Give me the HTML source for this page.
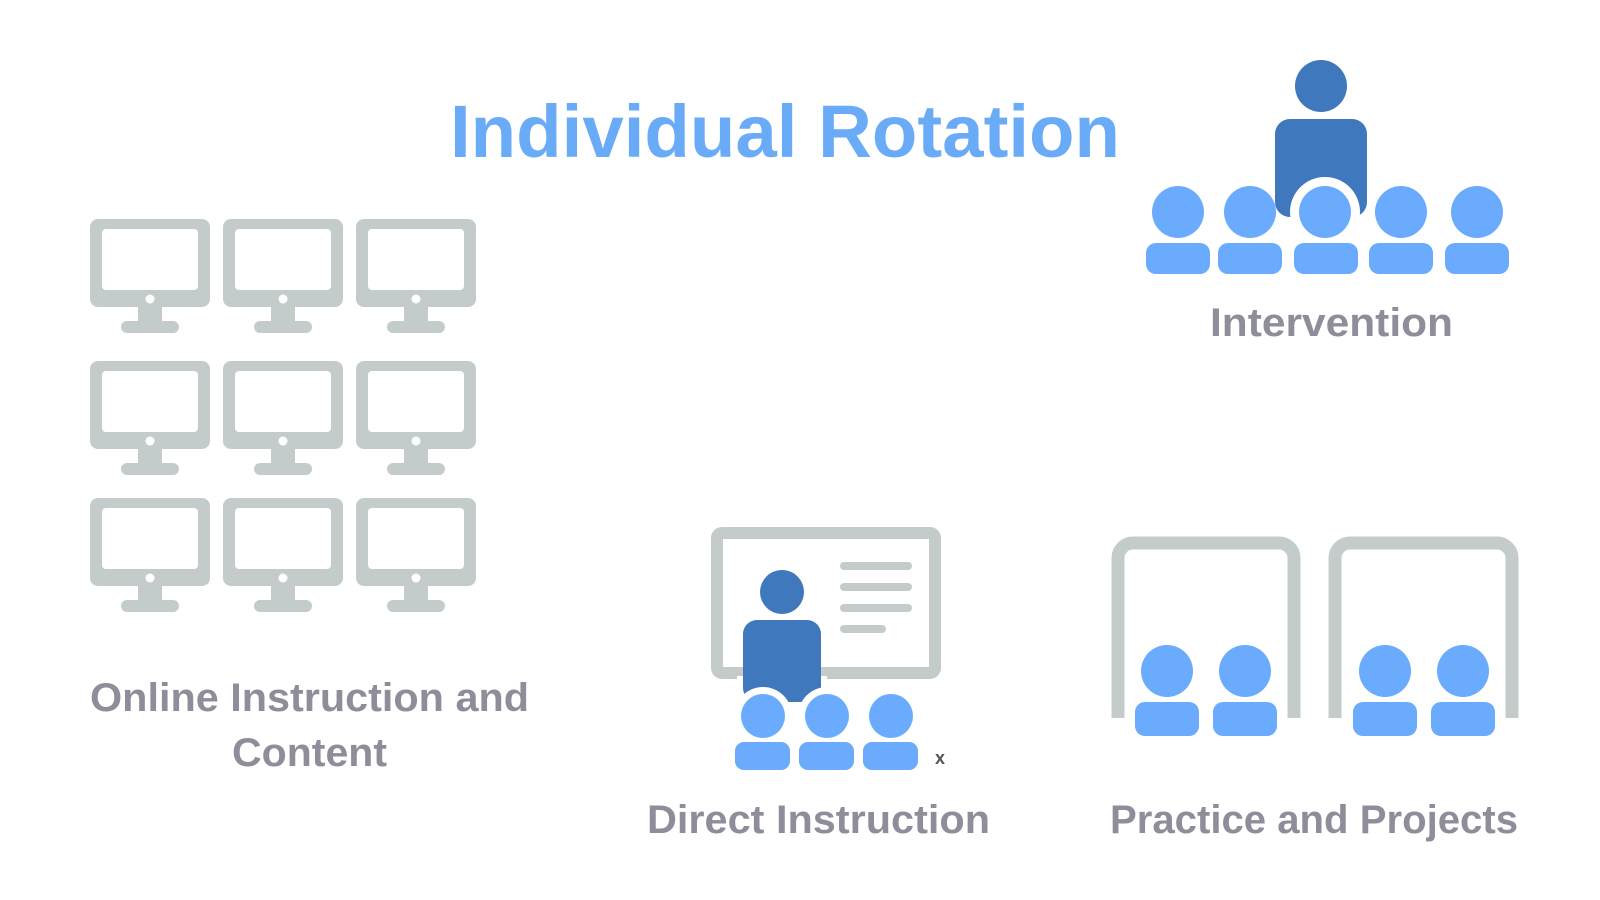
<!DOCTYPE html>
<html><head><meta charset="utf-8"><style>
html,body{margin:0;padding:0;background:#fff;}
svg{display:block;}
text{font-family:"Liberation Sans",sans-serif;font-weight:bold;}
</style></head><body>
<svg width="1600" height="900" viewBox="0 0 1600 900" xmlns="http://www.w3.org/2000/svg">
<defs>
<g id="mon">
<rect x="0" y="0" width="120" height="88" rx="8" fill="#c4cccb"/>
<rect x="12" y="10" width="96" height="61" rx="4" fill="#fff"/>
<circle cx="60" cy="80" r="4.5" fill="#fff"/>
<rect x="48" y="86" width="24" height="18" fill="#c4cccb"/>
<rect x="31" y="102" width="58" height="12" rx="6" fill="#c4cccb"/>
</g>
</defs>
<text x="450" y="157" font-size="74" fill="#6aabf7" textLength="670" lengthAdjust="spacingAndGlyphs">Individual Rotation</text>

<use href="#mon" x="90" y="219"/><use href="#mon" x="223" y="219"/><use href="#mon" x="356" y="219"/>
<use href="#mon" x="90" y="361"/><use href="#mon" x="223" y="361"/><use href="#mon" x="356" y="361"/>
<use href="#mon" x="90" y="498"/><use href="#mon" x="223" y="498"/><use href="#mon" x="356" y="498"/>

<!-- Intervention -->
<circle cx="1321" cy="86" r="26" fill="#3f78bd"/>
<rect x="1275" y="119" width="92" height="98" rx="15" fill="#3f78bd"/>
<circle cx="1325" cy="212" r="35" fill="#fff"/>
<g fill="#6aabfd">
<circle cx="1178" cy="212" r="26"/><circle cx="1250" cy="212" r="26"/><circle cx="1325" cy="212" r="26"/><circle cx="1401" cy="212" r="26"/><circle cx="1477" cy="212" r="26"/>
<rect x="1146" y="243" width="64" height="31" rx="10"/><rect x="1218" y="243" width="64" height="31" rx="10"/><rect x="1294" y="243" width="64" height="31" rx="10"/><rect x="1369" y="243" width="64" height="31" rx="10"/><rect x="1445" y="243" width="64" height="31" rx="10"/>
</g>
<text x="1210" y="336" font-size="40" fill="#8e8e9a" textLength="243" lengthAdjust="spacingAndGlyphs">Intervention</text>

<!-- Direct Instruction -->
<rect x="717" y="533" width="218" height="140" rx="5" fill="none" stroke="#c4cccb" stroke-width="12"/>
<g stroke="#c4cccb" stroke-width="8" stroke-linecap="round">
<line x1="844" y1="566" x2="908" y2="566"/><line x1="844" y1="587" x2="908" y2="587"/><line x1="844" y1="608" x2="908" y2="608"/><line x1="844" y1="629" x2="882" y2="629"/>
</g>
<rect x="737" y="676" width="90" height="10" fill="#fff"/>
<circle cx="782" cy="592" r="22" fill="#3f78bd"/>
<rect x="743" y="620" width="78" height="82" rx="14" fill="#3f78bd"/>
<circle cx="763" cy="716" r="29" fill="#fff"/><circle cx="827" cy="716" r="29" fill="#fff"/>
<g fill="#6aabfd">
<circle cx="763" cy="716" r="22"/><circle cx="827" cy="716" r="22"/><circle cx="891" cy="716" r="22"/>
<rect x="735" y="742" width="55" height="28" rx="9"/><rect x="799" y="742" width="55" height="28" rx="9"/><rect x="863" y="742" width="55" height="28" rx="9"/>
</g>
<text x="935" y="764" font-size="18" fill="#555">x</text>
<text x="647" y="833" font-size="40" fill="#8e8e9a" textLength="343" lengthAdjust="spacingAndGlyphs">Direct Instruction</text>

<!-- Practice -->
<g fill="none" stroke="#c4cccb" stroke-width="13">
<path d="M1118 718 V558 a15 15 0 0 1 15 -15 H1279 a15 15 0 0 1 15 15 V718"/>
<path d="M1335 718 V558 a15 15 0 0 1 15 -15 H1497 a15 15 0 0 1 15 15 V718"/>
</g>
<g fill="#6aabfd">
<circle cx="1167" cy="671" r="26"/><circle cx="1245" cy="671" r="26"/><circle cx="1385" cy="671" r="26"/><circle cx="1463" cy="671" r="26"/>
<rect x="1135" y="702" width="64" height="34" rx="10"/><rect x="1213" y="702" width="64" height="34" rx="10"/><rect x="1353" y="702" width="64" height="34" rx="10"/><rect x="1431" y="702" width="64" height="34" rx="10"/>
</g>
<text x="1110" y="833" font-size="40" fill="#8e8e9a" textLength="408" lengthAdjust="spacingAndGlyphs">Practice and Projects</text>

<text x="90" y="711" font-size="40" fill="#8e8e9a" textLength="439" lengthAdjust="spacingAndGlyphs">Online Instruction and</text>
<text x="232" y="766" font-size="40" fill="#8e8e9a" textLength="155" lengthAdjust="spacingAndGlyphs">Content</text>
</svg>
</body></html>
